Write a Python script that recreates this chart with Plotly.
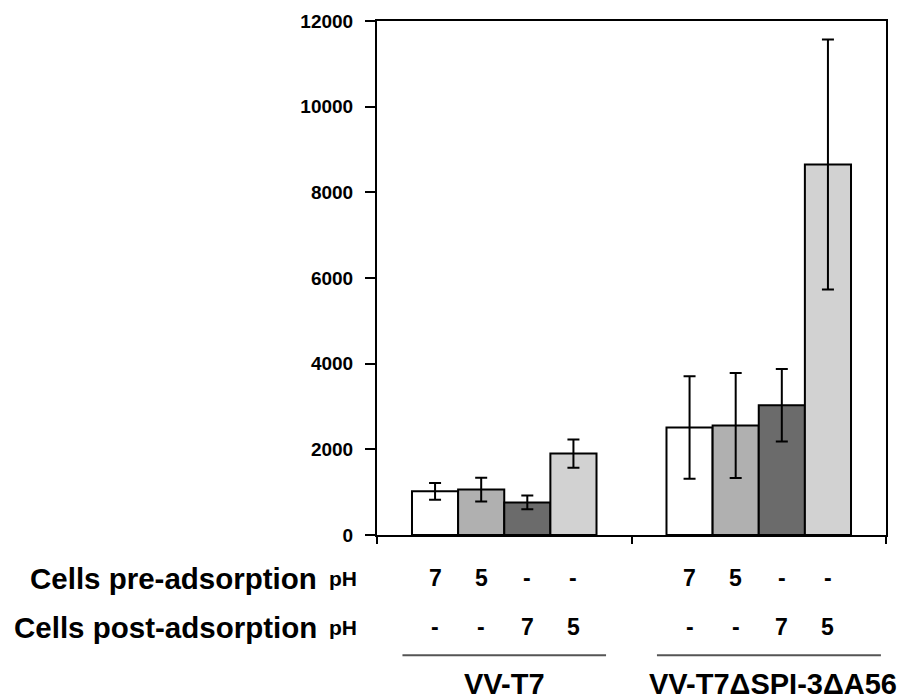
import plotly.graph_objects as go

groups = ["VV-T7", "VV-T7\u0394SPI-3\u0394A56"]
series_names = ["pre pH7", "pre pH5", "post pH7", "post pH5"]
values = [
    [1020, 2510],
    [1060, 2555],
    [760, 3030],
    [1900, 8650],
]
errors = [
    [195, 1195],
    [275, 1225],
    [160, 845],
    [330, 2920],
]
colors = ["#ffffff", "#b0b0b0", "#6b6b6b", "#d2d2d2"]
pre_labels = ["7", "5", "-", "-"]
post_labels = ["-", "-", "7", "5"]
row_titles = ["Cells pre-adsorption", "Cells post-adsorption"]
y_ticks = [0, 2000, 4000, 6000, 8000, 10000, 12000]

BARGAP = 0.275
FONT = "Liberation Sans, Arial, sans-serif"

fig = go.Figure()
for i, name in enumerate(series_names):
    fig.add_trace(go.Bar(
        x=groups, y=values[i], name=name,
        marker=dict(color=colors[i], line=dict(color="#000000", width=2)),
        error_y=dict(type="data", array=errors[i], visible=True,
                     color="#000000", thickness=2, width=6),
    ))

n = len(series_names)
bw = (1 - BARGAP) / n
offsets = [-(1 - BARGAP) / 2 + bw * (k + 0.5) for k in range(n)]

ann = []
row_y = [-0.084, -0.179]
for gi, g in enumerate(groups):
    for k in range(n):
        for r, labs in enumerate([pre_labels, post_labels]):
            ann.append(dict(x=gi + offsets[k], y=row_y[r], xref="x", yref="paper",
                            text="<b>%s</b>" % labs[k], showarrow=False,
                            font=dict(family=FONT, size=23, color="#000"),
                            xanchor="center", yanchor="middle"))
for r, t in enumerate(row_titles):
    ann.append(dict(x=-0.114, y=row_y[r], xref="paper", yref="paper", text="<b>%s</b>" % t,
                    showarrow=False, font=dict(family=FONT, size=29.5, color="#000"),
                    xanchor="right", yanchor="middle"))
    ann.append(dict(x=-0.066, y=row_y[r], xref="paper", yref="paper", text="<b>pH</b>",
                    showarrow=False, font=dict(family=FONT, size=21, color="#000"),
                    xanchor="center", yanchor="middle"))

shapes = []
for gi, g in enumerate(groups):
    shapes.append(dict(type="line", xref="x", yref="paper",
                       x0=gi - 0.4, x1=gi + 0.48 if gi == 1 else gi + 0.4,
                       y0=-0.234, y1=-0.234, line=dict(color="#555555", width=2)))
    ann.append(dict(x=gi + (0.055 if gi == 1 else 0.0), y=-0.290, xref="x", yref="paper",
                    text="<b>%s</b>" % g, showarrow=False,
                    font=dict(family=FONT, size=29, color="#000"),
                    xanchor="center", yanchor="middle"))

fig.update_layout(
    width=906, height=700,
    margin=dict(l=377, r=20, t=21, b=165),
    paper_bgcolor="white", plot_bgcolor="white",
    barmode="group", bargap=BARGAP, bargroupgap=0,
    showlegend=False,
    annotations=ann, shapes=shapes,
    font=dict(family=FONT, color="#000"),
)
fig.update_xaxes(
    range=[-0.5, len(groups) - 0.5], autorange=False,
    showticklabels=False, showline=True, linecolor="#000", linewidth=2,
    mirror=True, ticks="outside", tickson="boundaries", ticklen=7,
    tickwidth=2, tickcolor="#000", showgrid=False, automargin=False,
)
fig.update_yaxes(
    range=[0, 12000], tickvals=y_ticks, ticktext=["<b>%d</b>" % v for v in y_ticks],
    showline=True, linecolor="#000", linewidth=2, mirror=True,
    ticks="outside", ticklen=10, tickwidth=2, tickcolor="#000",
    showgrid=False, zeroline=False, ticklabelstandoff=8, automargin=False,
    tickfont=dict(family=FONT, size=19, color="#000"),
)

fig.write_html("out.html", config={"displayModeBar": False},
               post_script="document.body.style.margin='0';document.body.style.overflow='hidden';")
